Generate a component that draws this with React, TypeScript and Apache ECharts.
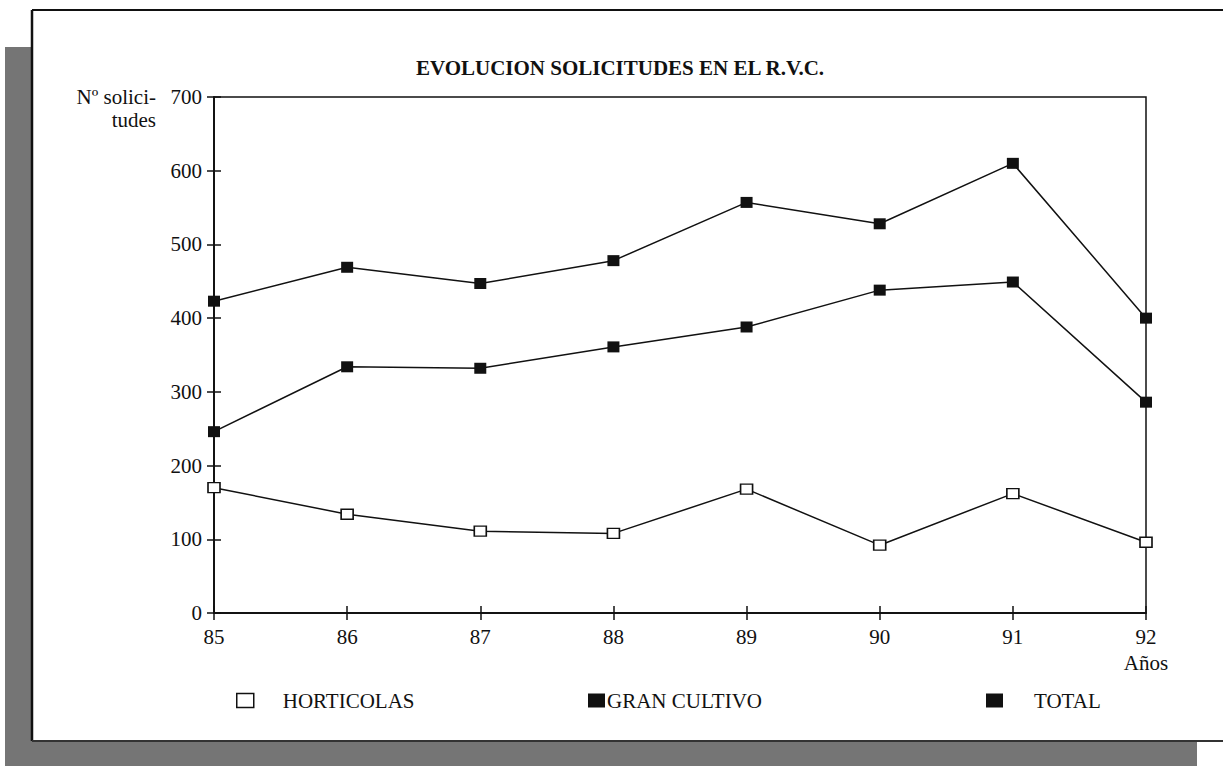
import React, { useEffect, useRef } from "react";
import * as echarts from "echarts";

const years = [85, 86, 87, 88, 89, 90, 91, 92];
const horticolas = [170, 134, 111, 108, 168, 92, 162, 96];
const granCultivo = [246, 334, 332, 361, 388, 438, 449, 286];
const total = [423, 469, 447, 478, 557, 528, 610, 400];
const yTicks = [0, 100, 200, 300, 400, 500, 600, 700];

const FONT = "Liberation Serif";
const INK = "#111";
const FS = 21;

export default function App() {
  const ref = useRef<HTMLDivElement>(null);
  useEffect(() => {
    if (!ref.current) return;
    const chart = echarts.init(ref.current, null, { renderer: "svg" });
    const pts = (vals: number[]) => years.map((y, i) => [y, vals[i]]);
    const axisCommon = {
      axisLine: { show: true, lineStyle: { color: INK, width: 1.5 } },
      splitLine: { show: false },
    };
    chart.setOption({
      animation: false,
      backgroundColor: "#fff",
      textStyle: { fontFamily: FONT },
      title: {
        text: "EVOLUCION SOLICITUDES EN EL R.V.C.",
        left: 615,
        top: 52,
        textAlign: "center",
        textStyle: { fontFamily: FONT, fontSize: FS, fontWeight: "bold", color: INK },
      },
      graphic: [
        { type: "rect", z: -10, shape: { x: 5, y: 47, width: 27, height: 719 }, style: { fill: "#757575" } },
        { type: "rect", z: -10, shape: { x: 5, y: 741, width: 1192, height: 25 }, style: { fill: "#757575" } },
        { type: "line", z: -5, shape: { x1: 32, y1: 10, x2: 1223, y2: 10 }, style: { stroke: INK, lineWidth: 2 } },
        { type: "line", z: -5, shape: { x1: 32, y1: 10, x2: 32, y2: 741 }, style: { stroke: INK, lineWidth: 2.5 } },
        { type: "line", z: -5, shape: { x1: 32, y1: 741, x2: 1223, y2: 741 }, style: { stroke: "#333", lineWidth: 2 } },
        {
          type: "text",
          x: 156,
          y: 85,
          style: {
            text: "Nº solici-\ntudes",
            align: "right",
            verticalAlign: "top",
            fontFamily: FONT,
            fontSize: FS,
            lineHeight: 23,
            fill: INK,
          },
        },
        {
          type: "text",
          x: 1146,
          y: 663,
          style: { text: "Años", align: "center", verticalAlign: "middle", fontFamily: FONT, fontSize: FS, fill: INK },
        },
      ],
      grid: {
        left: 214,
        right: 77,
        top: 97,
        bottom: 153,
        show: true,
        borderColor: INK,
        borderWidth: 1.5,
        backgroundColor: "transparent",
      },
      xAxis: [
        {
          type: "value",
          min: 85,
          max: 92,
          interval: 1,
          ...axisCommon,
          axisTick: { show: true, inside: false, length: 7, lineStyle: { color: INK, width: 1.5 } },
          axisLabel: { margin: 13, fontFamily: FONT, fontSize: FS, color: INK },
        },
        {
          type: "value",
          position: "bottom",
          min: 85,
          max: 92,
          interval: 1,
          ...axisCommon,
          axisTick: { show: true, inside: true, length: 7, lineStyle: { color: INK, width: 1.5 } },
          axisLabel: { show: false },
        },
      ],
      yAxis: [
        {
          type: "value",
          min: 0,
          max: 700,
          interval: 100,
          ...axisCommon,
          axisTick: { show: true, inside: false, length: 7, lineStyle: { color: INK, width: 1.5 } },
          axisLabel: {
            margin: 12,
            fontFamily: FONT,
            fontSize: FS,
            color: INK,
            formatter: (v: number) => (yTicks.includes(v) ? String(v) : ""),
          },
        },
        {
          type: "value",
          position: "left",
          min: 0,
          max: 700,
          interval: 100,
          ...axisCommon,
          axisTick: { show: true, inside: true, length: 7, lineStyle: { color: INK, width: 1.5 } },
          axisLabel: { show: false },
        },
      ],
      legend: [
        {
          left: 236,
          top: 690,
          padding: 0,
          itemWidth: 17,
          itemHeight: 14,
          textStyle: { fontFamily: FONT, fontSize: FS, color: INK, padding: [0, 0, 0, 24] },
          data: [{ name: "HORTICOLAS", icon: "rect", itemStyle: { color: "#fff", borderColor: INK, borderWidth: 1.5 } }],
        },
        {
          left: 588,
          top: 690,
          padding: 0,
          itemWidth: 17,
          itemHeight: 14,
          textStyle: { fontFamily: FONT, fontSize: FS, color: INK, padding: [0, 0, 0, -3] },
          data: [{ name: "GRAN CULTIVO", icon: "rect", itemStyle: { color: INK, borderWidth: 0 } }],
        },
        {
          left: 986,
          top: 690,
          padding: 0,
          itemWidth: 17,
          itemHeight: 14,
          textStyle: { fontFamily: FONT, fontSize: FS, color: INK, padding: [0, 0, 0, 26] },
          data: [{ name: "TOTAL", icon: "rect", itemStyle: { color: INK, borderWidth: 0 } }],
        },
      ],
      series: [
        {
          name: "HORTICOLAS",
          type: "line",
          data: pts(horticolas),
          symbol: "rect",
          symbolSize: [12, 10],
          lineStyle: { color: INK, width: 1.5 },
          itemStyle: { color: "#fff", borderColor: INK, borderWidth: 1.5 },
        },
        {
          name: "GRAN CULTIVO",
          type: "line",
          data: pts(granCultivo),
          symbol: "rect",
          symbolSize: [12, 11],
          lineStyle: { color: INK, width: 1.5 },
          itemStyle: { color: INK, borderWidth: 0 },
        },
        {
          name: "TOTAL",
          type: "line",
          data: pts(total),
          symbol: "rect",
          symbolSize: [12, 11],
          lineStyle: { color: INK, width: 1.5 },
          itemStyle: { color: INK, borderWidth: 0 },
        },
      ],
    });
    return () => chart.dispose();
  }, []);
  return (
    <div
      ref={ref}
      style={{ position: "fixed", left: 0, top: 0, width: 1223, height: 766, background: "#fff" }}
    />
  );
}
